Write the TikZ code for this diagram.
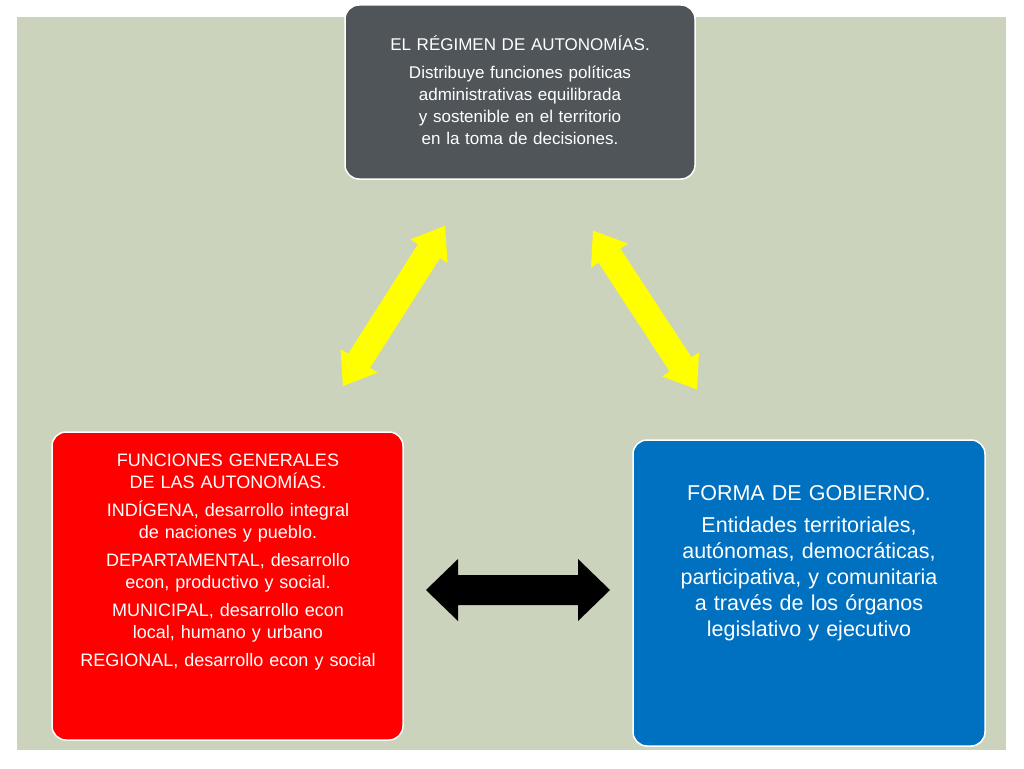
\documentclass[tikz,border=0pt]{standalone}
\usepackage{fontspec}
\setmainfont{Liberation Sans}
\definecolor{panel}{HTML}{CCD3BC}
\definecolor{topc}{HTML}{50555A}
\definecolor{redc}{HTML}{FF0000}
\definecolor{bluec}{HTML}{0070C0}
\definecolor{yel}{HTML}{FFFF00}
\hyphenpenalty=10000
\newcommand\mydblarrow[4]{% T/2, L, s, h
 (-#1,0) -- (-#1+#2,#4) -- (-#1+#2,#3) -- (#1-#2,#3) -- (#1-#2,#4) -- (#1,0) -- (#1-#2,-#4) -- (#1-#2,-#3) -- (-#1+#2,-#3) -- (-#1+#2,-#4) -- cycle}
\begin{document}
\begin{tikzpicture}[x=1pt,y=-1pt,
  box/.style={draw=white,line width=1.5pt,rounded corners=14pt},
  txt/.style={text=white,align=center,inner sep=0pt}]
\useasboundingbox (0,0) rectangle (1024,768);
\fill[white] (0,0) rectangle (1024,768);
\fill[panel] (17,17) rectangle (1006,750);
\draw[box,fill=topc] (345,5) rectangle (695,179);
\node[txt,text width=300pt,font=\fontsize{17}{22}\selectfont] (top) at (520,90)
 {EL RÉGIMEN DE AUTONOMÍAS.\\[6pt]Distribuye funciones políticas administrativas equilibrada y sostenible en el territorio en la toma de decisiones.};
\draw[box,fill=redc] (52,432) rectangle (403,740);
\node[txt,text width=335pt,font=\fontsize{18}{22}\selectfont] (left) at (228,562)
 {FUNCIONES GENERALES DE LAS AUTONOMÍAS.\\[6pt]INDÍGENA, desarrollo integral de naciones y pueblo.\\[6pt]DEPARTAMENTAL, desarrollo econ, productivo y social.\\[6pt]MUNICIPAL, desarrollo econ local, humano y urbano\\[6pt]REGIONAL, desarrollo econ y social};
\draw[box,fill=bluec] (633,440) rectangle (985,746);
\node[txt,text width=325pt,font=\fontsize{21.5}{26}\selectfont] (right) at (809,563)
 {FORMA DE GOBIERNO.\\[6pt]Entidades territoriales, autónomas, democráticas, participativa, y comunitaria a través de los órganos legislativo y ejecutivo};
\begin{scope}[shift={(394,306)},rotate=57.5]
 \fill[yel] \mydblarrow{95}{30}{13}{22};
\end{scope}
\begin{scope}[shift={(645,310)},rotate=-56.8]
 \fill[yel] \mydblarrow{95}{30}{13}{22};
\end{scope}
\begin{scope}[shift={(518,590)}]
 \fill[black] \mydblarrow{92}{32}{15}{31};
\end{scope}
\end{tikzpicture}
\end{document}
